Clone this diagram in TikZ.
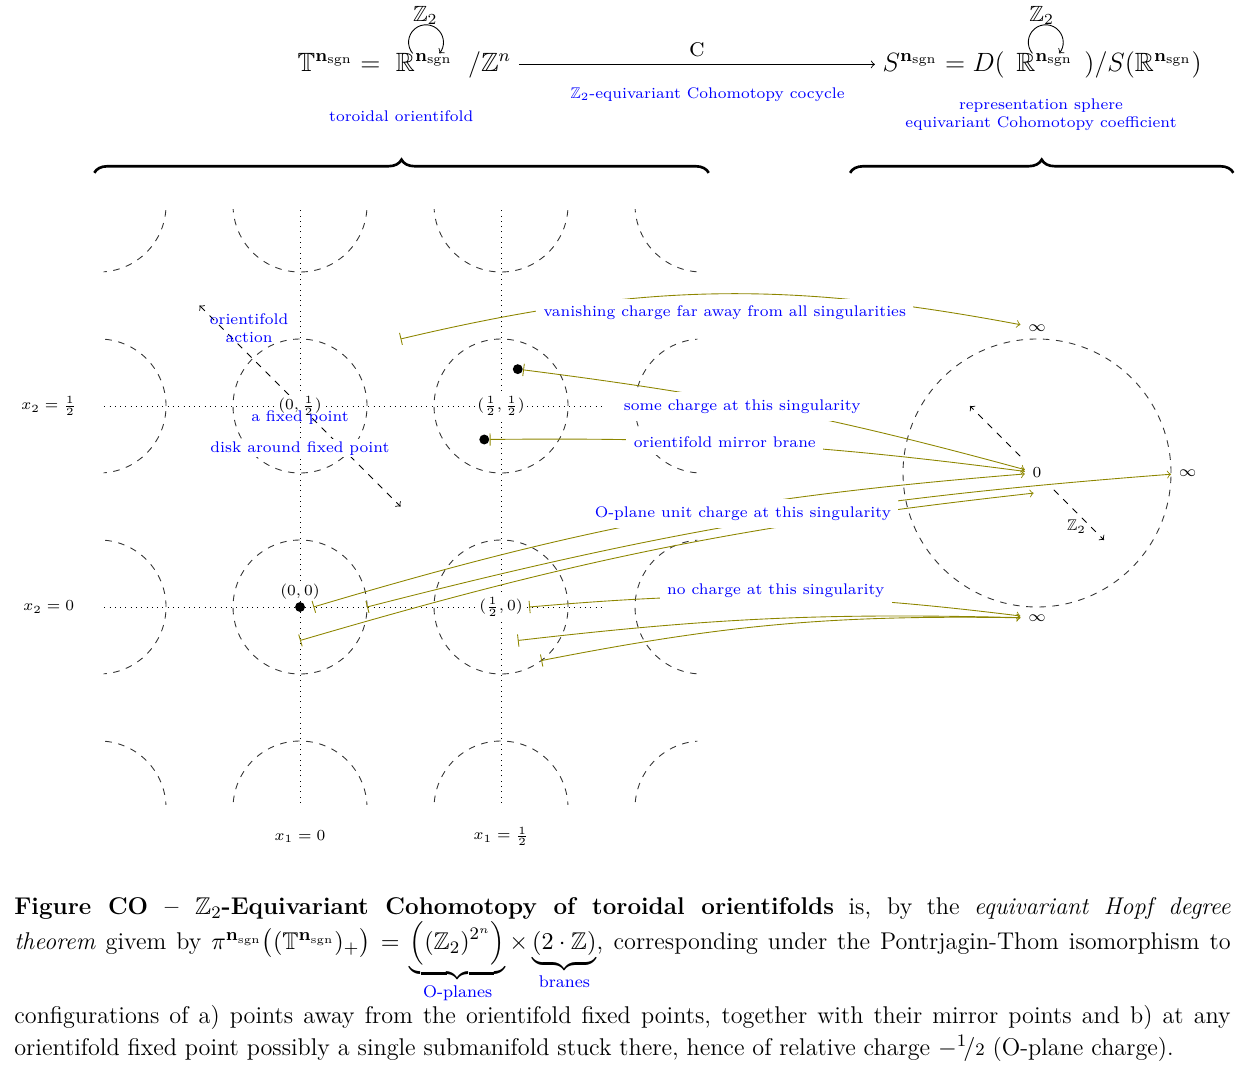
\documentclass[tikz,border=0pt]{standalone}
\usepackage{amsmath,amssymb}
\usetikzlibrary{arrows,decorations.pathreplacing}

\newcommand{\nsgn}{\mathbf{n}_{\mathrm{sgn}}}

\begin{document}
\begin{tikzpicture}
[ x=1.07cm, y=1.07cm,
disk/.style={draw=black!80, dashed},
axis/.style={dotted},
charge/.style={draw=olive, |->},
note/.style={text=blue, font=\scriptsize},
coord/.style={fill=white, font=\scriptsize, inner sep=1pt},
fixed/.style={circle, fill=black, inner sep=0pt, minimum size=4.5pt},
formula/.style={anchor=base west, font=\large},
brace/.style={decorate, decoration={brace, amplitude=6pt}, very thick},
]
\useasboundingbox (-4.478,-6.881) rectangle (14.179,9.06);

% top row
\node[formula] (torus) at (-0.15,8) {$\mathbb{T}^{\nsgn} =$};
\node[formula] (rleft) at (torus.base east) {$\mathbb{R}^{\nsgn}$};
\node[formula] (lattice) at (rleft.base east) {$/\mathbb{Z}^n$};
\node[formula] (sphere) at (8.58,8) {$S^{\nsgn} = D($};
\node[formula, inner xsep=1.5pt] (rright) at (sphere.base east) {$\mathbb{R}^{\nsgn}$};
\node[formula] (quot) at (rright.base east) {$)/S(\mathbb{R}^{\nsgn})$};

\coordinate (twistl) at (1.88,8.43);
\coordinate (twistr) at (11.13,8.43);
\draw[->] (twistl) ++(220:0.26) arc[start angle=220, end angle=-40, radius=0.26];
\draw[->] (twistr) ++(220:0.26) arc[start angle=220, end angle=-40, radius=0.26];
\node (zl) at (1.87,8.83) {$\mathbb{Z}_2$};
\node (zr) at (11.07,8.83) {$\mathbb{Z}_2$};

\draw[->] (lattice.east) -- node[above, font=\large]{\textsc{c}} 
  node[note, below=7pt, pos=0.53]{$\mathbb{Z}_2$-equivariant Cohomotopy cocycle} 
  (sphere.west |- lattice.east);
\node[note] (torlabel) at (1.51,7.33) {toroidal orientifold};
\node[note, align=center] (spherelabel) at (11.06,7.35) 
  {representation sphere\\equivariant Cohomotopy coefficient};

% braces
\coordinate (bl1) at (-3.07,6.48);
\coordinate (bl2) at (6.1,6.48);
\coordinate (br1) at (8.21,6.48);
\coordinate (br2) at (13.93,6.48);
\draw[brace] (bl1) -- (bl2);
\draw[brace] (br1) -- (br2);

% lattice
\begin{scope}
\clip (-2.93,-2.95) rectangle (5.93,5.93);
\foreach \x in {-3,0,3,6}
  \foreach \y in {-3,0,3,6}
    \draw[disk] (\x,\y) circle (1);
\foreach \x in {0,3}
  \draw[axis] (\x,-3) -- (\x,6);
\foreach \y in {0,3}
  \draw[axis] (-3,\y) -- (4.55,\y);
\end{scope}

\node[font=\scriptsize] (xtwohalf) at (-3.75,3) {$x_2 = \tfrac{1}{2}$};
\node[font=\scriptsize] (xtwozero) at (-3.75,0) {$x_2 = 0$};
\node[font=\scriptsize] (xonezero) at (0,-3.42) {$x_1 = 0$};
\node[font=\scriptsize] (xonehalf) at (3,-3.42) {$x_1 = \tfrac{1}{2}$};

% orientifold action
\coordinate (actfrom) at (-1.5,4.5);
\coordinate (actto) at (1.5,1.5);
\draw[dashed, <->] (actfrom) -- (actto);
\node[note, align=center] (actlabel) at (-0.76,4.16) {orientifold\\action};

% representation sphere
\draw[disk] (11,2) circle (2);
\node[font=\scriptsize] (zero) at (11,2) {$0$};
\node[font=\scriptsize, above] (inftop) at (11,4) {$\infty$};
\node[font=\scriptsize, right] (infright) at (13,2) {$\infty$};
\node[font=\scriptsize, below] (infbot) at (11,0) {$\infty$};
\coordinate (twistup) at (10,3);
\coordinate (twistdown) at (12,1);
\draw[dashed, ->, shorten <=3pt] (zero) -- (twistup);
\draw[dashed, ->, shorten <=3pt] (zero) -- node[below, font=\scriptsize]{$\mathbb{Z}_2$} (twistdown);

% charges
\node[fixed, label={[coord]above:$(0,0)$}] (fp) at (0,0) {};
\node[fixed] (brane) at (3.25,3.55) {};
\node[fixed] (mirror) at (2.75,2.5) {};
\coordinate (far) at (1.5,4);
\coordinate (atfixed) at (0.2,0);
\coordinate (rim) at (1,0);
\coordinate (inside) at (0,-0.5);
\coordinate (target) at (10.95,1.7);
\coordinate (nc1) at (3.42,0);
\coordinate (nc2) at (3.25,-0.5);
\coordinate (nc3) at (3.6,-0.8);

\draw[charge] (far) to[bend left=12] (inftop);
\draw[charge] (brane) to[bend left=4] (zero);
\draw[charge] (mirror) to[bend left=4] (zero);
\draw[charge] (atfixed) to[bend left=6] (zero);
\draw[charge] (rim) to[bend left=5] (infright);
\draw[charge] (inside) to[bend left=5] (target);
\draw[charge] (nc1) to[bend left=6] (infbot);
\draw[charge] (nc2) to[bend left=4] (infbot);
\draw[charge] (nc3) to[bend left=6] (infbot);

% labels
\node[coord] (zerohalf) at (0,3) {$(0,\tfrac{1}{2})$};
\node[coord] (halfhalf) at (3,3) {$(\tfrac{1}{2},\tfrac{1}{2})$};
\node[coord] (halfzero) at (3,0) {$(\tfrac{1}{2},0)$};
\node[note] (fixlabel) at (0,2.82) {a fixed point};
\node[note, fill=white, inner sep=1pt] (disklabel) at (0,2.37) {disk around fixed point};
\node[note, fill=white] (vanish) at (6.34,4.39) {vanishing charge far away from all singularities};
\node[note, fill=white] (some) at (6.60,2.99) {some charge at this singularity};
\node[note, fill=white] (mirrorlabel) at (6.34,2.46) {orientifold mirror brane};
\node[note, fill=white] (oplane) at (6.61,1.40) {O-plane unit charge at this singularity};
\node[note, fill=white] (nocharge) at (7.10,0.24) {no charge at this singularity};

% caption
\node[anchor=north west, text width=552.7pt, align=justify, inner sep=0pt,
  font=\fontsize{11}{14.5}\selectfont] (caption) at (-4.27,-4.33)
{\textbf{Figure CO -- $\mathbb{Z}_2$-Equivariant Cohomotopy of toroidal orientifolds} is, by the \emph{equivariant Hopf degree}\linebreak \emph{theorem} givem by $\pi^{\nsgn}\big( (\mathbb{T}^{\nsgn})_+ \big) = \underbrace{\Big( (\mathbb{Z}_2)^{2^n} \Big)}_{\text{\color{blue}O-planes}} \times \underbrace{(2\cdot\mathbb{Z})}_{\text{\color{blue}branes}}$, corresponding under the Pontrjagin-Thom isomorphism to\linebreak configurations of a) points away from the orientifold fixed points, together with their mirror points and b) at any\linebreak orientifold fixed point possibly a single submanifold stuck there, hence of relative charge $-{}^{1}\!/{\scriptstyle 2}$ (O-plane charge).};
\end{tikzpicture}
\end{document}
